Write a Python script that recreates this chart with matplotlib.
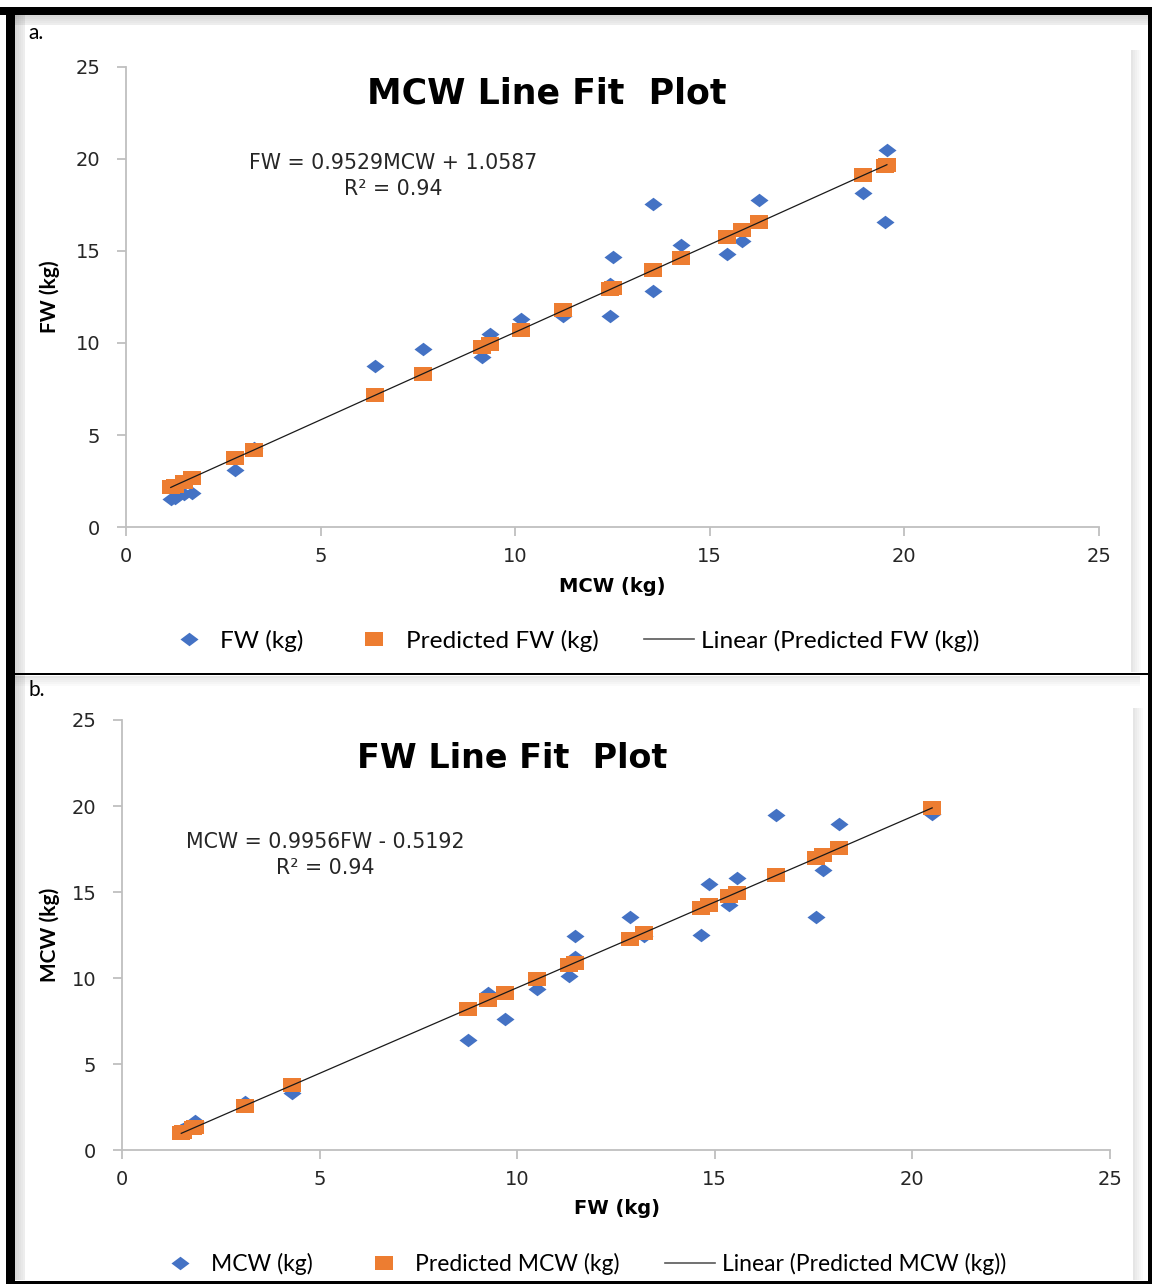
import matplotlib
matplotlib.use("Agg")
import matplotlib.pyplot as plt
from matplotlib.patches import Rectangle
from matplotlib.lines import Line2D

# ---------------- data ----------------
mcw = [1.15, 1.25, 1.48, 1.70, 2.80, 3.30, 6.40, 7.62, 9.14, 9.35, 10.14, 11.24,
       12.44, 12.44, 12.50, 13.55, 13.55, 14.25, 15.45, 15.84, 16.26, 18.94, 19.50, 19.55]
fw = [1.50, 1.55, 1.80, 1.85, 3.10, 4.30, 8.75, 9.70, 9.26, 10.50, 11.30, 11.45,
      11.45, 13.20, 14.65, 17.55, 12.85, 15.35, 14.85, 15.55, 17.75, 18.15, 16.55, 20.50]
pred_fw = [2.15, 2.25, 2.47, 2.68, 3.73, 4.20, 7.16, 8.32, 9.77, 9.97, 10.72, 11.77,
           12.91, 12.91, 12.97, 13.97, 13.97, 14.64, 15.78, 16.15, 16.55, 19.11, 19.64, 19.69]
pred_mcw = [0.97, 1.02, 1.27, 1.32, 2.57, 3.76, 8.19, 9.14, 8.70, 9.93, 10.73, 10.88,
            10.88, 12.62, 14.07, 16.95, 12.27, 14.76, 14.27, 14.96, 17.15, 17.55, 15.96, 19.89]
ticks = [0, 5, 10, 15, 20, 25]

W, H = 1152, 1284
fig = plt.figure(figsize=(W / 100, H / 100), dpi=100)
fig.patch.set_facecolor("white")

def fx(px):
    return px / W

def fy(py):
    return 1 - py / H

def rect_px(x0, y0, x1, y1, **kw):
    r = Rectangle((fx(x0), fy(y1)), fx(x1) - fx(x0), fy(y0) - fy(y1),
                  transform=fig.transFigure, **kw)
    fig.patches.append(r)

# background decorations: shadows + black frame
for i, a in enumerate([0.10, 0.08, 0.06, 0.04, 0.02]):
    rect_px(1131 + i * 2, 50, 1133 + i * 2, 672, facecolor="black", alpha=a, edgecolor="none")
    rect_px(1133 + i * 2, 708, 1135 + i * 2, 1280, facecolor="black", alpha=a, edgecolor="none")
    rect_px(15 + i * 2, 15, 17 + i * 2, 1280, facecolor="black", alpha=a + 0.05, edgecolor="none")
    rect_px(15, 15 + i * 2, 1148, 17 + i * 2, facecolor="black", alpha=a + 0.05, edgecolor="none")
    rect_px(15, 676 + i * 2, 1140, 678 + i * 2, facecolor="black", alpha=a, edgecolor="none")
rect_px(0, 7, W, 15, facecolor="black", edgecolor="none")
rect_px(6, 7, 15, 1284, facecolor="black", edgecolor="none")
rect_px(1148, 7, 1152, 1284, facecolor="black", edgecolor="none")
rect_px(6, 1281, 1152, 1284, facecolor="black", edgecolor="none")
rect_px(15, 673, 1148, 675, facecolor="black", edgecolor="none")

BLUE = "#4472C4"
ORANGE = "#ED7D31"
GRAY = "#BFBFBF"
diamond = [(-1, 0), (0, 0.75), (1, 0), (0, -0.75), (-1, 0)]
square = [(-1, -0.85), (1, -0.85), (1, 0.85), (-1, 0.85), (-1, -0.85)]
TFONT = "DejaVu Sans"
LFONT = "Lato"


def panel(box, x, y, yp, title, eq, eq_xy, title_xy, xlabel, xlab_xy, ylabel, ylab_xy,
          leg_labels, leg_y, leg_x, leg_fs, title_fs):
    ax = fig.add_axes(box)
    ax.set_xlim(0, 25)
    ax.set_ylim(0, 25)
    ax.set_xticks(ticks)
    ax.set_yticks(ticks)
    for s in ["top", "right"]:
        ax.spines[s].set_visible(False)
    for s in ["left", "bottom"]:
        ax.spines[s].set_color(GRAY)
        ax.spines[s].set_linewidth(1.3)
    ax.tick_params(axis="both", direction="out", length=6.5, width=1.3, color=GRAY,
                   labelsize=14, labelcolor="#262626")
    ax.tick_params(axis="y", pad=12)
    ax.tick_params(axis="x", pad=8)
    ax.patch.set_alpha(0)
    ax.plot(x, y, linestyle="none", marker=diamond, markersize=13, color=BLUE,
            markeredgewidth=0, zorder=3)
    ax.plot(x, yp, linestyle="none", marker=square, markersize=12.5, color=ORANGE,
            markeredgewidth=0, zorder=4)
    pairs = sorted(zip(x, yp))
    ax.plot([p[0] for p in pairs], [p[1] for p in pairs], color="#1a1a1a", lw=0.9, zorder=5)
    fig.text(fx(title_xy[0]), fy(title_xy[1]), title, ha="center", va="center",
             fontsize=title_fs, fontweight="bold", family=TFONT, color="black")
    fig.text(fx(eq_xy[0]), fy(eq_xy[1]), eq[0], ha="center", va="center",
             fontsize=14.8, family=TFONT, color="#262626")
    fig.text(fx(eq_xy[0]), fy(eq_xy[1] + 26), eq[1], ha="center", va="center",
             fontsize=14.8, family=TFONT, color="#262626")
    fig.text(fx(xlab_xy[0]), fy(xlab_xy[1]), xlabel, ha="center", va="center",
             fontsize=14, fontweight="bold", family=TFONT, color="black")
    fig.text(fx(ylab_xy[0]), fy(ylab_xy[1]), ylabel, ha="center", va="center",
             rotation=90, fontsize=15, fontweight="bold", family=LFONT, color="black")
    handles = [
        Line2D([], [], linestyle="none", marker=diamond, markersize=13, color=BLUE,
               markeredgewidth=0),
        Line2D([], [], linestyle="none", marker=square, markersize=12.5, color=ORANGE,
               markeredgewidth=0),
        Line2D([], [], color="#595959", lw=1.2),
    ]
    fig.legend(handles, leg_labels, loc="center left",
               bbox_to_anchor=(fx(leg_x), fy(leg_y)), ncol=3, frameon=False,
               prop={"family": LFONT, "size": leg_fs}, handlelength=36 / leg_fs,
               handletextpad=4.5 / leg_fs, columnspacing=33 / leg_fs,
               borderaxespad=0, borderpad=0)
    return ax


panel([fx(126), fy(527), fx(1099) - fx(126), fy(67) - fy(527)], mcw, fw, pred_fw,
      "MCW Line Fit  Plot", ["FW = 0.9529MCW + 1.0587", "R\u00b2 = 0.94"], (393, 163),
      (547, 93), "MCW (kg)", (612, 586), "FW (kg)", (50, 297),
      ["FW (kg)", "Predicted FW (kg)", "Linear (Predicted FW (kg))"], 641, 164, 17.6, 25)

panel([fx(122), fy(1150), fx(1110) - fx(122), fy(720) - fy(1150)], fw, mcw, pred_mcw,
      "FW Line Fit  Plot", ["MCW = 0.9956FW - 0.5192", "R\u00b2 = 0.94"], (325, 842),
      (512, 759), "FW (kg)", (617, 1208), "MCW (kg)", (50, 935),
      ["MCW (kg)", "Predicted MCW (kg)", "Linear (Predicted MCW (kg))"], 1264, 155, 16.5, 24)

fig.text(fx(28), fy(33), "a.", ha="left", va="center", fontsize=15, family=LFONT)
fig.text(fx(28), fy(690), "b.", ha="left", va="center", fontsize=15, family=LFONT)

fig.savefig("out.png", dpi=100, facecolor=fig.get_facecolor())
